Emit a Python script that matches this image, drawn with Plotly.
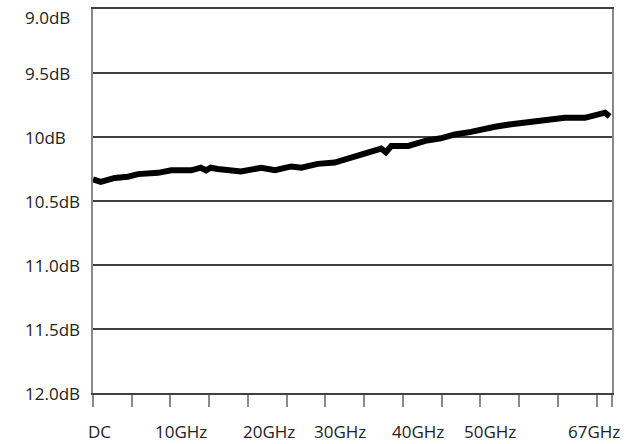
import plotly.graph_objects as go

# Frequency (GHz) and insertion loss (dB)
freq_ghz = [0, 1.0, 2.8, 4.5, 5.8, 7.1, 8.4, 10.1, 12.7, 13.9, 14.6, 15.2, 16.1,
            19.1, 21.7, 23.5, 25.6, 26.9, 29.0, 31.2, 33.3, 35.1, 37.2, 37.8, 38.5,
            40.7, 42.9, 44.9, 46.7, 48.8, 50.1, 51.9, 54.0, 56.5, 58.7, 60.9, 63.5,
            64.8, 66.1, 66.7]
loss_db = [10.33, 10.35, 10.32, 10.31, 10.29, 10.29, 10.28, 10.26, 10.26, 10.24, 10.26,
           10.24, 10.25, 10.27, 10.24, 10.26, 10.23, 10.24, 10.21, 10.20, 10.16, 10.13,
           10.09, 10.12, 10.07, 10.07, 10.03, 10.01, 9.98, 9.96, 9.94, 9.92, 9.90,
           9.88, 9.86, 9.85, 9.85, 9.83, 9.81, 9.84]

# Axis ticks and labels
y_ticks = [9.0, 9.5, 10.0, 10.5, 11.0, 11.5, 12.0]
y_labels = ["9.0dB", "9.5dB", "10dB", "10.5dB", "11.0dB", "11.5dB", "12.0dB"]
x_tick_marks = [0, 5, 10, 15, 20, 25, 30, 35, 40, 45, 50, 55, 60, 65, 67]
x_label_pos = [0.9, 11.4, 22.7, 31.9, 41.96, 51.3, 64.7]
x_labels = ["DC", "10GHz", "20GHz", "30GHz", "40GHz", "50GHz", "67GHz"]

FONT = "Open Sans, Noto Sans, sans-serif"
TXT = "#222222"

fig = go.Figure()
fig.add_trace(go.Scatter(x=freq_ghz, y=loss_db, mode="lines",
                         line=dict(color="black", width=6),
                         showlegend=False, hoverinfo="skip"))

fig.update_layout(
    width=634, height=444,
    margin=dict(l=93, r=22, t=7, b=51),
    paper_bgcolor="white", plot_bgcolor="white",
    font=dict(family=FONT, size=17, color=TXT),
    xaxis=dict(range=[0, 67], tickvals=x_tick_marks, showticklabels=False,
               ticks="outside", ticklen=12, tickwidth=2, tickcolor="#8a8a8a",
               showgrid=False, zeroline=False, showline=True, linecolor="#404040",
               linewidth=2, mirror=True),
    yaxis=dict(range=[12.0, 9.0], tickvals=y_ticks, showticklabels=False,
               ticks="", showgrid=True, gridcolor="#404040", gridwidth=2,
               zeroline=False, showline=True, linecolor="#8a8a8a", linewidth=2,
               mirror=True),
)

for v, t in zip(y_ticks, y_labels):
    fig.add_annotation(x=-0.1349, xref="paper", xanchor="left",
                       y=v, yref="y", yanchor="middle", text=t, showarrow=False,
                       yshift=-8 if v == 9.0 else 0,
                       font=dict(family=FONT, size=17, color=TXT))

for v, t in zip(x_label_pos, x_labels):
    fig.add_annotation(x=v, xref="x", xanchor="center",
                       y=-39 / 386, yref="paper", yanchor="middle", text=t,
                       showarrow=False, font=dict(family=FONT, size=17, color=TXT))

fig.write_html("out.html", config={"displayModeBar": False},
               post_script="document.body.style.margin='0';document.body.style.overflow='hidden';")
